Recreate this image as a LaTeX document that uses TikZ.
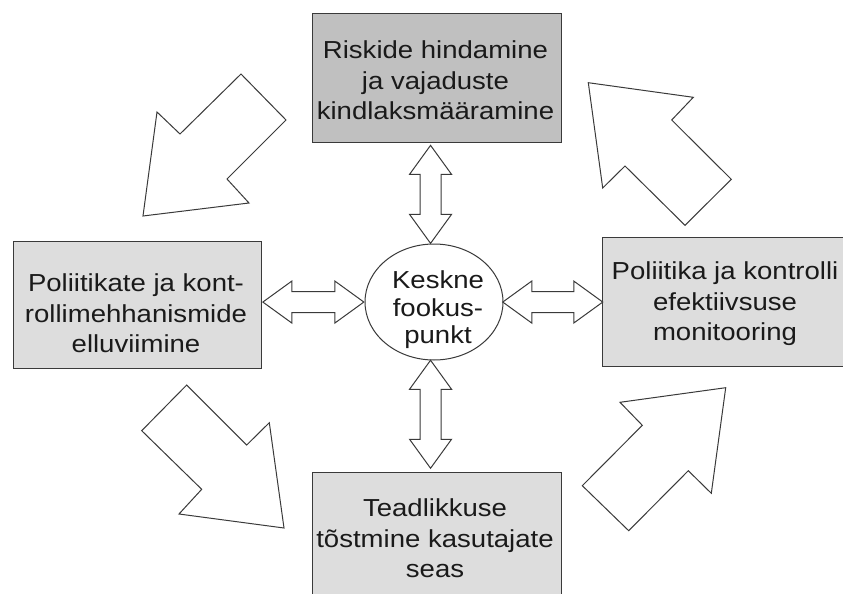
\documentclass[tikz,border=0pt]{standalone}
\usepackage{fontspec}
\setmainfont{Liberation Sans}[FakeStretch=1.12]
\usetikzlibrary{calc,shapes.geometric}
\definecolor{boxdark}{HTML}{C0C0C0}
\definecolor{boxlight}{HTML}{DDDDDD}
\definecolor{edge}{HTML}{3A3A3A}
\definecolor{ink}{HTML}{1A1A1A}
\tikzset{
  panel/.style={draw=edge, line width=1.2pt, inner sep=0pt, anchor=north west},
  caption/.style={text=ink, align=center, inner sep=0pt,
    font=\fontsize{24.6}{30.5}\selectfont},
  bigarrow/.style={draw=edge, fill=white, line width=1pt, line join=miter},
  % two-headed block arrow of length #1, centred on the origin, along x
  pics/twoway/.style={code={
    \draw[bigarrow] ({-#1/2},0) -- ({-#1/2+29},21) -- ({-#1/2+29},10.5)
      -- ({#1/2-29},10.5) -- ({#1/2-29},21) -- ({#1/2},0)
      -- ({#1/2-29},-21) -- ({#1/2-29},-10.5) -- ({-#1/2+29},-10.5)
      -- ({-#1/2+29},-21) -- cycle;
  }}
}
\begin{document}
\begin{tikzpicture}[x=1pt,y=-1pt]
\useasboundingbox (0,0) rectangle (843,594);
\fill[white] (0,0) rectangle (843,594);

% the four activity boxes
\node[panel, fill=boxdark, minimum width=249pt, minimum height=129pt] (risk) at (312,13) {};
\node[panel, fill=boxlight, minimum width=248.3pt, minimum height=127pt] (impl) at (12.7,241) {};
\node[panel, fill=boxlight, minimum width=260pt, minimum height=129pt] (monit) at (602,237) {};
\node[panel, fill=boxlight, minimum width=249pt, minimum height=140pt] (aware) at (312,472) {};

% central focus point
\node[ellipse, draw=edge, fill=white, line width=1pt, inner sep=0pt,
      minimum width=138pt, minimum height=116pt] (hub) at (434,302) {};

% box texts
\node[caption] (riskT) at (435.5,80.5) {Riskide hindamine\\ja vajaduste\\kindlaksmääramine};
\node[caption] (implT) at (136,313.5) {Poliitikate ja kont-\\rollimehhanismide\\elluviimine};
\node[caption] (monitT) at (725,304) {Poliitika ja kontrolli\\efektiivsuse\\monitooring};
\node[caption] (awareT) at (435,538.5) {Teadlikkuse\\tõstmine kasutajate\\seas};
\node[caption, font=\fontsize{24.6}{27.5}\selectfont] (hubT) at (438,310) {Keskne\\fookus-\\punkt};

% two-way links between the hub and each box
\pic[rotate=90] at ($(risk.south)!0.5!(hub.north)+(-5,1)$) {twoway=98};
\pic[rotate=90] at ($(hub.south)!0.5!(aware.north)+(-5,-2)$) {twoway=108};
\pic at ($(impl.east)!0.5!(hub.west)+(0,-1.5)$) {twoway=101};
\pic at ($(hub.east)!0.5!(monit.west)$) {twoway=100};

% cycle arrows between the boxes
\draw[bigarrow] (241,74) -- (286,120) -- (227,179) -- (249,203) -- (143,216)
  -- (157,112) -- (180,134) -- cycle;
\draw[bigarrow] (588.3,82.7) -- (693.3,97.3) -- (671.7,120) -- (731.3,179.3)
  -- (685,225.3) -- (625,166) -- (602.7,188) -- cycle;
\draw[bigarrow] (186.7,385) -- (246.7,445) -- (269.3,422.7) -- (284,528)
  -- (179,514) -- (201.7,489.3) -- (141.7,430.7) -- cycle;
\draw[bigarrow] (725.7,387.7) -- (711.3,493.3) -- (688.3,470.7) -- (628.7,530.7)
  -- (582.3,485.7) -- (642.3,425.3) -- (620,402.3) -- cycle;
\end{tikzpicture}
\end{document}
